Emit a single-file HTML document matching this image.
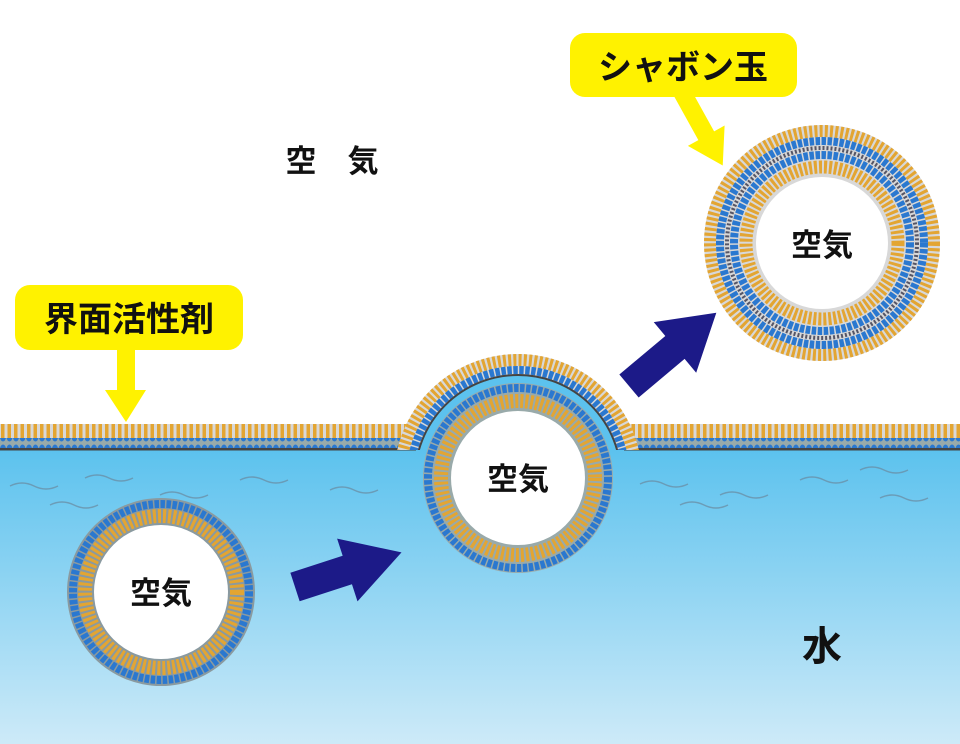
<!DOCTYPE html>
<html><head><meta charset="utf-8"><style>
html,body{margin:0;padding:0;background:#fff}
svg{display:block}
text{font-family:"Liberation Sans","Noto Sans CJK JP",sans-serif;font-weight:bold;fill:#111}
</style></head><body>
<svg width="960" height="744" viewBox="0 0 960 744" xmlns="http://www.w3.org/2000/svg">
<defs>
<linearGradient id="w" x1="0" y1="0" x2="0" y2="1">
<stop offset="0" stop-color="#5cc2ee"/><stop offset="1" stop-color="#cdeaf8"/>
</linearGradient>
<pattern id="tails" x="0" y="0" width="6.5" height="30" patternUnits="userSpaceOnUse">
<rect x="0" y="0" width="6.5" height="30" fill="#d8d8d8"/>
<rect x="1" y="0" width="3.5" height="30" fill="#e3a532"/>
</pattern>
<pattern id="heads" x="0" y="0" width="6.5" height="12" patternUnits="userSpaceOnUse">
<rect width="6.5" height="12" fill="#9aa"/>
<ellipse cx="3" cy="5" rx="3" ry="4.5" fill="#2a78d0"/>
</pattern>
<clipPath id="above"><rect x="0" y="0" width="960" height="450"/></clipPath>
</defs>
<rect x="0" y="450" width="960" height="294" fill="url(#w)"/>
<g fill="none" stroke="#6a8aa0" stroke-width="1.5" opacity="0.7">
<path d="M10 486 q12 -6 24 0 t24 0"/><path d="M85 478 q12 -6 24 0 t24 0"/><path d="M160 495 q12 -6 24 0 t24 0"/>
<path d="M240 480 q12 -6 24 0 t24 0"/><path d="M330 490 q12 -6 24 0 t24 0"/><path d="M50 505 q12 -6 24 0 t24 0"/>
<path d="M640 484 q12 -6 24 0 t24 0"/><path d="M720 495 q12 -6 24 0 t24 0"/><path d="M800 480 q12 -6 24 0 t24 0"/>
<path d="M880 498 q12 -6 24 0 t24 0"/><path d="M680 505 q12 -6 24 0 t24 0"/><path d="M860 470 q12 -6 24 0 t24 0"/>
</g>
<g>
<rect x="0" y="424" width="416" height="14" fill="url(#tails)"/>
<rect x="0" y="438" width="416" height="10" fill="url(#heads)"/>
<rect x="0" y="448" width="416" height="2.5" fill="#444"/>
<rect x="624" y="424" width="336" height="14" fill="url(#tails)"/>
<rect x="624" y="438" width="336" height="10" fill="url(#heads)"/>
<rect x="624" y="448" width="336" height="2.5" fill="#444"/>
</g>
<g clip-path="url(#above)">
<circle cx="518" cy="478" r="124" fill="#d8d8d8"/>
<circle cx="518" cy="478" r="118" fill="none" stroke="#e3a532" stroke-width="12" stroke-dasharray="3 2.2"/>
<circle cx="518" cy="478" r="108" fill="none" stroke="#2a78d0" stroke-width="8" stroke-dasharray="4.5 1.5"/>
<circle cx="518" cy="478" r="103" fill="#5cc2ee" stroke="#444" stroke-width="2"/>
</g>
<g>
<circle cx="518" cy="478" r="95" fill="#9aa"/>
<circle cx="518" cy="478" r="90" fill="none" stroke="#2a78d0" stroke-width="8" stroke-dasharray="4.5 1.5"/>
<circle cx="518" cy="478" r="77" fill="none" stroke="#e3a532" stroke-width="14" stroke-dasharray="3 2"/>
<circle cx="518" cy="478" r="67" fill="#fff"/>
</g>
<g>
<circle cx="161" cy="592" r="94" fill="#8a9aa0"/>
<circle cx="161" cy="592" r="88" fill="none" stroke="#2a78d0" stroke-width="8" stroke-dasharray="4.5 1.5"/>
<circle cx="161" cy="592" r="76" fill="none" stroke="#e3a532" stroke-width="14" stroke-dasharray="3 2"/>
<circle cx="161" cy="592" r="67" fill="#fff"/>
</g>
<g>
<circle cx="822" cy="243" r="118" fill="#d8d8d8"/>
<circle cx="822" cy="243" r="112" fill="none" stroke="#e3a532" stroke-width="12" stroke-dasharray="3 2.2"/>
<circle cx="822" cy="243" r="102" fill="none" stroke="#2a78d0" stroke-width="8" stroke-dasharray="4.5 1.5"/>
<circle cx="822" cy="243" r="95" fill="none" stroke="#556" stroke-width="4" stroke-dasharray="2 2"/>
<circle cx="822" cy="243" r="88" fill="none" stroke="#2a78d0" stroke-width="8" stroke-dasharray="4.5 1.5"/>
<circle cx="822" cy="243" r="76" fill="none" stroke="#e3a532" stroke-width="13" stroke-dasharray="3 2"/>
<circle cx="822" cy="243" r="66" fill="#fff"/>
</g>
<polygon points="0,-15 55,-15 55,-33 112,0 55,33 55,15 0,15" fill="#1c1a88" transform="translate(295,587) rotate(-18)"/>
<polygon points="0,-15 60,-15 60,-33 114,0 60,33 60,15 0,15" fill="#1c1a88" transform="translate(629,386) rotate(-40)"/>
<rect x="15" y="285" width="228" height="65" rx="15" fill="#fff200"/>
<polygon points="117,348 135,348 135,390 146,390 126,422 105,390 117,390" fill="#fff200"/>
<text x="129" y="331" font-size="34" text-anchor="middle">界面活性剤</text>
<rect x="570" y="33" width="227" height="64" rx="15" fill="#fff200"/>
<polygon points="0,-9 50,-9 50,-21 84,0 50,21 50,9 0,9" fill="#fff200" transform="translate(682,92) rotate(61)"/>
<text x="683" y="79" font-size="34" text-anchor="middle">シャボン玉</text>
<text x="332" y="172" font-size="31" text-anchor="middle">空　気</text>
<text x="518" y="490" font-size="31" text-anchor="middle">空気</text>
<text x="161" y="604" font-size="31" text-anchor="middle">空気</text>
<text x="822" y="256" font-size="31" text-anchor="middle">空気</text>
<text x="822" y="660" font-size="40" text-anchor="middle">水</text>
</svg>
</body></html>
